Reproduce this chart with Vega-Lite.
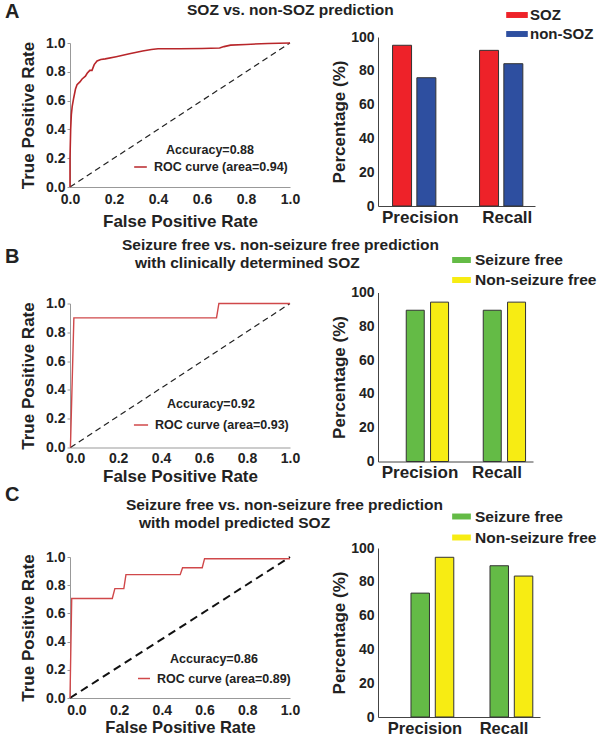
{
  "$schema": "https://vega.github.io/schema/vega-lite/v6.json",
  "background": "white",
  "padding": {"left": 5, "top": 1, "right": 0, "bottom": 0},
  "config": {
    "font": "Liberation Sans",
    "view": {"stroke": null},
    "axis": {
      "grid": false,
      "labelFont": "Liberation Sans",
      "titleFont": "Liberation Sans",
      "labelFontWeight": "bold",
      "titleFontWeight": "bold",
      "labelColor": "#222",
      "titleColor": "#222",
      "labelFontSize": 14,
      "titleFontSize": 17,
      "domainColor": "#999",
      "tickColor": "#999",
      "tickSize": 3,
      "labelPadding": 3,
      "labelOverlap": false,
      "labelFlush": false
    },
    "legend": {
      "labelFont": "Liberation Sans",
      "titleFont": "Liberation Sans",
      "labelColor": "#222",
      "titleColor": "#222",
      "labelFontWeight": "bold",
      "titleFontWeight": "bold"
    },
    "title": {
      "font": "Liberation Sans",
      "fontWeight": "bold",
      "fontSize": 15.5,
      "color": "#222"
    }
  },
  "datasets": {
    "rocA": [
      {"k": 0, "fpr": 0.0, "tpr": 0.0}, {"k": 1, "fpr": 0.0, "tpr": 0.2}, {"k": 2, "fpr": 0.003, "tpr": 0.4},
      {"k": 3, "fpr": 0.006, "tpr": 0.5}, {"k": 4, "fpr": 0.01, "tpr": 0.56}, {"k": 5, "fpr": 0.017, "tpr": 0.62},
      {"k": 6, "fpr": 0.025, "tpr": 0.68}, {"k": 7, "fpr": 0.032, "tpr": 0.71}, {"k": 8, "fpr": 0.045, "tpr": 0.73},
      {"k": 9, "fpr": 0.055, "tpr": 0.75}, {"k": 10, "fpr": 0.07, "tpr": 0.77}, {"k": 11, "fpr": 0.078, "tpr": 0.79},
      {"k": 12, "fpr": 0.09, "tpr": 0.81}, {"k": 13, "fpr": 0.1, "tpr": 0.81}, {"k": 14, "fpr": 0.11, "tpr": 0.85},
      {"k": 15, "fpr": 0.123, "tpr": 0.875}, {"k": 16, "fpr": 0.14, "tpr": 0.885}, {"k": 17, "fpr": 0.16, "tpr": 0.89},
      {"k": 18, "fpr": 0.21, "tpr": 0.905}, {"k": 19, "fpr": 0.24, "tpr": 0.915}, {"k": 20, "fpr": 0.27, "tpr": 0.925},
      {"k": 21, "fpr": 0.33, "tpr": 0.945}, {"k": 22, "fpr": 0.37, "tpr": 0.955}, {"k": 23, "fpr": 0.4, "tpr": 0.96},
      {"k": 24, "fpr": 0.5, "tpr": 0.96}, {"k": 25, "fpr": 0.6, "tpr": 0.962}, {"k": 26, "fpr": 0.68, "tpr": 0.965},
      {"k": 27, "fpr": 0.7, "tpr": 0.975}, {"k": 28, "fpr": 0.73, "tpr": 0.985}, {"k": 29, "fpr": 0.8, "tpr": 0.99},
      {"k": 30, "fpr": 0.9, "tpr": 0.997}, {"k": 31, "fpr": 1.0, "tpr": 1.0}
    ],
    "diagA": [{"fpr": 0, "tpr": 0}, {"fpr": 1, "tpr": 1}],
    "rocB": [
      {"k": 0, "fpr": -0.022, "tpr": 0.0}, {"k": 1, "fpr": -0.006, "tpr": 0.9}, {"k": 2, "fpr": 0.658, "tpr": 0.9},
      {"k": 3, "fpr": 0.669, "tpr": 1.0}, {"k": 4, "fpr": 1.0, "tpr": 1.0}
    ],
    "diagB": [{"fpr": -0.022, "tpr": 0}, {"fpr": 1, "tpr": 1}],
    "rocC": [
      {"k": 0, "fpr": -0.03, "tpr": 0.0}, {"k": 1, "fpr": -0.022, "tpr": 0.706}, {"k": 2, "fpr": 0.168, "tpr": 0.706},
      {"k": 3, "fpr": 0.18, "tpr": 0.776}, {"k": 4, "fpr": 0.222, "tpr": 0.776}, {"k": 5, "fpr": 0.232, "tpr": 0.875},
      {"k": 6, "fpr": 0.486, "tpr": 0.875}, {"k": 7, "fpr": 0.497, "tpr": 0.924}, {"k": 8, "fpr": 0.589, "tpr": 0.924},
      {"k": 9, "fpr": 0.6, "tpr": 0.988}, {"k": 10, "fpr": 1.0, "tpr": 0.988}
    ],
    "diagC": [{"fpr": -0.03, "tpr": 0}, {"fpr": 1, "tpr": 1}],
    "barA": [
      {"metric": "Precision", "cls": "SOZ", "pct": 95.1},
      {"metric": "Precision", "cls": "non-SOZ", "pct": 75.9},
      {"metric": "Recall", "cls": "SOZ", "pct": 92.1},
      {"metric": "Recall", "cls": "non-SOZ", "pct": 84.2}
    ],
    "barB": [
      {"metric": "Precision", "cls": "Seizure free", "pct": 89.5},
      {"metric": "Precision", "cls": "Non-seizure free", "pct": 94.3},
      {"metric": "Recall", "cls": "Seizure free", "pct": 89.5},
      {"metric": "Recall", "cls": "Non-seizure free", "pct": 94.3}
    ],
    "barC": [
      {"metric": "Precision", "cls": "Seizure free", "pct": 73.3},
      {"metric": "Precision", "cls": "Non-seizure free", "pct": 94.5},
      {"metric": "Recall", "cls": "Seizure free", "pct": 89.5},
      {"metric": "Recall", "cls": "Non-seizure free", "pct": 83.4}
    ]
  },
  "vconcat": [
    {
      "hconcat": [
        {
          "width": 220, "height": 150,
          "title": {"text": "SOZ vs. non-SOZ prediction", "anchor": "start", "frame": "group", "align": "left", "dx": 117, "offset": 18},
          "layer": [
            {
              "data": {"name": "diagA"},
              "mark": {"type": "line", "color": "#222", "strokeDash": [6, 4], "strokeWidth": 1.2},
              "encoding": {
                "x": {"field": "fpr", "type": "quantitative", "scale": {"domain": [0, 1], "nice": false, "zero": false},
                  "axis": {"title": "False Positive Rate", "values": [0, 0.2, 0.4, 0.6, 0.8, 1.0], "format": ".1f", "titlePadding": 7, "ticks": false, "labelPadding": 5}},
                "y": {"field": "tpr", "type": "quantitative", "scale": {"domain": [0, 1], "nice": false, "range": [150, 6]},
                  "axis": {"title": "True Positive Rate", "tickCount": 5, "format": ".1f", "titlePadding": 8, "labelPadding": 2}}
              }
            },
            {
              "data": {"name": "rocA"},
              "mark": {"type": "line", "strokeWidth": 1.6},
              "encoding": {
                "x": {"field": "fpr", "type": "quantitative"},
                "y": {"field": "tpr", "type": "quantitative"},
                "order": {"field": "k", "type": "quantitative"},
                "color": {"datum": "ROC curve (area=0.94)", "type": "nominal",
                  "scale": {"range": ["#b8262a"]},
                  "legend": {"title": "Accuracy=0.88", "orient": "none", "legendX": 63, "legendY": 107, "titleFontSize": 12.5, "labelFontSize": 12.5, "titleAnchor": "middle", "titlePadding": 3, "symbolType": "stroke", "symbolSize": 160, "symbolStrokeWidth": 1.5, "labelOffset": 6}}
              }
            }
          ]
        },
        {
          "width": 157, "height": 169,
          "title": {"text": "A", "anchor": "start", "frame": "group", "align": "left", "dx": -373, "offset": 0, "dy": 15.5, "font": "Liberation Sans", "fontSize": 20},
          "data": {"name": "barA"},
          "mark": {"type": "bar", "stroke": "#333", "strokeWidth": 1, "width": 19},
          "encoding": {
            "x": {"field": "metric", "type": "nominal", "sort": ["Precision", "Recall"],
              "scale": {"paddingInner": 0.441, "paddingOuter": 0.123, "align": 0.84},
              "axis": {"title": null, "labelAngle": 0, "labelFontSize": 17, "ticks": false, "domainColor": "#444", "labelPadding": 3}},
            "xOffset": {"field": "cls", "type": "nominal", "sort": ["SOZ", "non-SOZ"], "scale": {"paddingInner": 0, "paddingOuter": 0}},
            "y": {"field": "pct", "type": "quantitative", "scale": {"domain": [0, 100], "nice": false},
              "axis": {"title": "Percentage (%)", "values": [0, 20, 40, 60, 80, 100], "ticks": false, "domainColor": "#444", "labelPadding": 4, "titlePadding": 2}},
            "color": {"field": "cls", "type": "nominal",
              "scale": {"domain": ["SOZ", "non-SOZ"], "range": ["#ee2229", "#2e4fa0"]},
              "legend": {"title": null, "orient": "none", "legendX": 130, "legendY": -31, "labelFontSize": 15, "symbolType": "M-1.2,-0.33H1.2V0.33H-1.2Z", "symbolSize": 324, "symbolStrokeWidth": 0, "labelOffset": 4, "rowPadding": 2}}
          }
        }
      ],
      "spacing": 88,
      "bounds": "flush",
      "resolve": {"scale": {"color": "independent"}, "legend": {"color": "independent"}}
    },
    {
      "hconcat": [
        {
          "width": 220, "height": 155,
          "title": {"text": ["Seizure free vs. non-seizure free prediction", "\u200b\u00a0\u00a0\u00a0with clinically determined SOZ"], "anchor": "start", "frame": "group", "align": "left", "dx": 52, "offset": 21, "lineHeight": 18},
          "layer": [
            {
              "data": {"name": "diagB"},
              "mark": {"type": "line", "color": "#222", "strokeDash": [6, 4], "strokeWidth": 1.2},
              "encoding": {
                "x": {"field": "fpr", "type": "quantitative", "scale": {"domain": [-0.024, 1], "nice": false, "zero": false},
                  "axis": {"title": "False Positive Rate", "values": [0, 0.2, 0.4, 0.6, 0.8, 1.0], "format": ".1f", "titlePadding": 3, "ticks": false, "labelPadding": 4}},
                "y": {"field": "tpr", "type": "quantitative", "scale": {"domain": [0, 1], "nice": false, "range": [155, 11]},
                  "axis": {"title": "True Positive Rate", "tickCount": 5, "format": ".1f", "titlePadding": 8, "labelPadding": 2}}
              }
            },
            {
              "data": {"name": "rocB"},
              "mark": {"type": "line", "strokeWidth": 1.4},
              "encoding": {
                "x": {"field": "fpr", "type": "quantitative"},
                "y": {"field": "tpr", "type": "quantitative"},
                "order": {"field": "k", "type": "quantitative"},
                "color": {"datum": "ROC curve (area=0.93)", "type": "nominal",
                  "scale": {"range": ["#d0484a"]},
                  "legend": {"title": "Accuracy=0.92", "orient": "none", "legendX": 63, "legendY": 105, "titleFontSize": 12.5, "labelFontSize": 12.5, "titleAnchor": "middle", "titlePadding": 7, "symbolType": "stroke", "symbolSize": 200, "symbolStrokeWidth": 1.5, "labelOffset": 6}}
              }
            }
          ]
        },
        {
          "width": 155, "height": 169,
          "title": {"text": "B", "anchor": "start", "frame": "group", "align": "left", "dx": -373, "offset": 0, "dy": 15, "font": "Liberation Sans", "fontSize": 20},
          "data": {"name": "barB"},
          "mark": {"type": "bar", "stroke": "#333", "strokeWidth": 1, "width": 18},
          "encoding": {
            "x": {"field": "metric", "type": "nominal", "sort": ["Precision", "Recall"],
              "scale": {"paddingInner": 0.4026, "paddingOuter": 0.2078, "align": 0.594},
              "axis": {"title": null, "labelAngle": 0, "labelFontSize": 17, "ticks": false, "domainColor": "#444", "labelPadding": 3}},
            "xOffset": {"field": "cls", "type": "nominal", "sort": ["Seizure free", "Non-seizure free"], "scale": {"paddingInner": 0, "paddingOuter": 0}},
            "y": {"field": "pct", "type": "quantitative", "scale": {"domain": [0, 100], "nice": false},
              "axis": {"title": "Percentage (%)", "values": [0, 20, 40, 60, 80, 100], "ticks": false, "domainColor": "#444", "labelPadding": 4, "titlePadding": 2}},
            "color": {"field": "cls", "type": "nominal",
              "scale": {"domain": ["Seizure free", "Non-seizure free"], "range": ["#64bb46", "#f7ec13"]},
              "legend": {"title": null, "orient": "none", "legendX": 75, "legendY": -41, "labelFontSize": 15.5, "symbolType": "M-1.1,-0.35H1.1V0.35H-1.1Z", "symbolSize": 289, "symbolStrokeWidth": 0, "labelOffset": 5, "rowPadding": 3}}
          }
        }
      ],
      "spacing": 88,
      "bounds": "flush",
      "resolve": {"scale": {"color": "independent"}, "legend": {"color": "independent"}}
    },
    {
      "hconcat": [
        {
          "width": 220, "height": 150,
          "title": {"text": ["Seizure free vs. non-seizure free prediction", "\u200b\u00a0\u00a0\u00a0with model predicted SOZ"], "anchor": "start", "frame": "group", "align": "left", "dx": 56, "offset": 17, "lineHeight": 18},
          "layer": [
            {
              "data": {"name": "diagC"},
              "mark": {"type": "line", "color": "#111", "strokeDash": [8, 5], "strokeWidth": 2},
              "encoding": {
                "x": {"field": "fpr", "type": "quantitative", "scale": {"domain": [-0.03, 1], "nice": false, "zero": false},
                  "axis": {"title": "False Positive Rate", "titleFontSize": 16.5, "values": [0, 0.2, 0.4, 0.6, 0.8, 1.0], "format": ".1f", "titlePadding": 2, "ticks": false, "labelPadding": 5}},
                "y": {"field": "tpr", "type": "quantitative", "scale": {"domain": [0, 1], "nice": false, "range": [150, 9]},
                  "axis": {"title": "True Positive Rate", "tickCount": 5, "format": ".1f", "titlePadding": 8, "labelPadding": 2}}
              }
            },
            {
              "data": {"name": "rocC"},
              "mark": {"type": "line", "strokeWidth": 1.4},
              "encoding": {
                "x": {"field": "fpr", "type": "quantitative"},
                "y": {"field": "tpr", "type": "quantitative"},
                "order": {"field": "k", "type": "quantitative"},
                "color": {"datum": "ROC curve (area=0.89)", "type": "nominal",
                  "scale": {"range": ["#d0484a"]},
                  "legend": {"title": "Accuracy=0.86", "orient": "none", "legendX": 67, "legendY": 105, "titleFontSize": 12.5, "labelFontSize": 12.5, "titleAnchor": "middle", "titlePadding": 6, "symbolType": "stroke", "symbolSize": 144, "symbolStrokeWidth": 1.5, "labelOffset": 6}}
              }
            }
          ]
        },
        {
          "width": 162, "height": 169,
          "title": {"text": "C", "anchor": "start", "frame": "group", "align": "left", "dx": -373, "offset": 0, "dy": -3, "font": "Liberation Sans", "fontSize": 20},
          "data": {"name": "barC"},
          "mark": {"type": "bar", "stroke": "#333", "strokeWidth": 1, "width": 18.5},
          "encoding": {
            "x": {"field": "metric", "type": "nominal", "sort": ["Precision", "Recall"],
              "scale": {"paddingInner": 0.4177, "paddingOuter": 0.234, "align": 0.649},
              "axis": {"title": null, "labelAngle": 0, "labelFontSize": 16.5, "ticks": false, "domainColor": "#444", "labelPadding": 3}},
            "xOffset": {"field": "cls", "type": "nominal", "sort": ["Seizure free", "Non-seizure free"], "scale": {"paddingInner": 0, "paddingOuter": 0}},
            "y": {"field": "pct", "type": "quantitative", "scale": {"domain": [0, 100], "nice": false},
              "axis": {"title": "Percentage (%)", "values": [0, 20, 40, 60, 80, 100], "ticks": false, "domainColor": "#444", "labelPadding": 4, "titlePadding": 2}},
            "color": {"field": "cls", "type": "nominal",
              "scale": {"domain": ["Seizure free", "Non-seizure free"], "range": ["#64bb46", "#f7ec13"]},
              "legend": {"title": null, "orient": "none", "legendX": 75, "legendY": -40, "labelFontSize": 15.5, "symbolType": "M-1.1,-0.35H1.1V0.35H-1.1Z", "symbolSize": 289, "symbolStrokeWidth": 0, "labelOffset": 5, "rowPadding": 4}}
          }
        }
      ],
      "spacing": 88,
      "bounds": "flush",
      "resolve": {"scale": {"color": "independent"}, "legend": {"color": "independent"}}
    }
  ],
  "spacing": 255.5,
  "bounds": "flush",
  "resolve": {"scale": {"color": "independent"}, "legend": {"color": "independent"}}
}
